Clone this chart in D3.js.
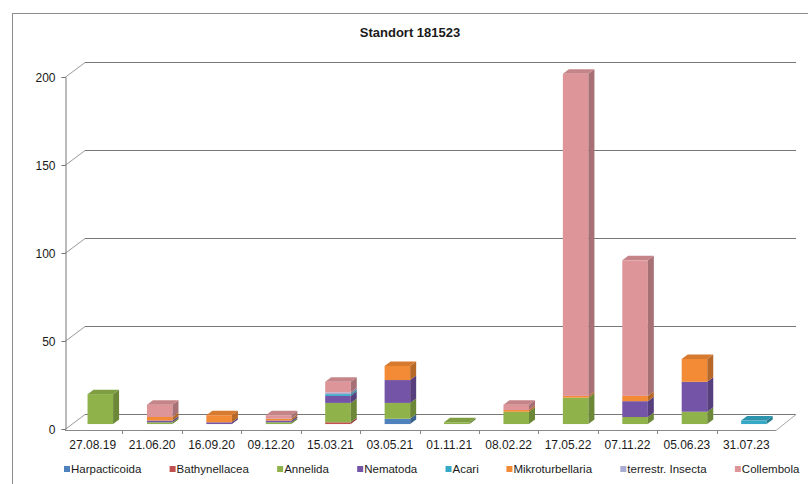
<!DOCTYPE html>
<html>
<head>
<meta charset="utf-8">
<script src="https://d3js.org/d3.v7.min.js"></script>
<style>
  body { margin: 0; background: #fff; }
  text { font-family: "Liberation Sans", Arial, sans-serif; fill: #1a1a1a; }
</style>
</head>
<body>
<svg width="808" height="484"></svg>
<script>
// categories (sampling dates)
var dates = ["27.08.19", "21.06.20", "16.09.20", "09.12.20", "15.03.21", "03.05.21",
             "01.11.21", "08.02.22", "17.05.22", "07.11.22", "05.06.23", "31.07.23"];

// series values
var harpacticoida    = [0, 0, 0, 0, 0, 3, 0, 0, 0, 0, 0, 0];
var bathynellacea    = [0, 0, 0, 0, 1, 0, 0, 0, 0, 0, 0, 0];
var annelida         = [17, 1, 0, 1, 11, 9, 1, 7, 15, 4, 7, 0];
var nematoda         = [0, 1, 1, 1, 4, 13, 0, 0, 0, 9, 17, 0];
var acari            = [0, 0, 0, 0, 1, 0, 0, 0, 0, 0, 0, 2];
var mikroturbellaria = [0, 2, 4, 1, 0, 8, 0, 1, 1, 3, 13, 0];
var insecta          = [0, 0, 0, 0, 1, 0, 0, 0, 0, 0, 0, 0];
var collembola       = [0, 7, 0, 2, 6, 0, 0, 3, 183, 77, 0, 0];

var seriesNames = ["Harpacticoida", "Bathynellacea", "Annelida", "Nematoda", "Acari",
                   "Mikroturbellaria", "terrestr. Insecta", "Collembola"];
var seriesValues = [harpacticoida, bathynellacea, annelida, nematoda, acari,
                    mikroturbellaria, insecta, collembola];
var colors = ["#4f81bd", "#c0504d", "#8fb34a", "#7454a6", "#34a8c4", "#f28a36", "#a9abd3", "#de959a"];

var yTicks = [0, 50, 100, 150, 200];

var svg = d3.select("svg");

// outer frame
svg.append("rect")
    .attr("x", 12.5).attr("y", 13.5)
    .attr("width", 820).attr("height", 500)
    .attr("fill", "none").attr("stroke", "#8c8c8c");

svg.append("text")
    .attr("x", 410).attr("y", 37)
    .attr("text-anchor", "middle")
    .style("font-size", "13px").style("font-weight", "bold")
    .text("Standort 181523");

// 3d geometry
var dx = 20, dy = -15;
var left = 65, right = 776;
var y = d3.scaleLinear().domain([0, 200]).range([429, 77]);
var x = d3.scaleBand().domain(dates).range([63, 776]);

var grid = svg.append("g");
yTicks.forEach(function(t) {
    // back wall line
    grid.append("line")
        .attr("x1", left + dx).attr("x2", right + dx)
        .attr("y1", y(t) + dy + 0.5).attr("y2", y(t) + dy + 0.5)
        .attr("stroke", "#777").attr("stroke-width", 1);
    // side wall line
    grid.append("line")
        .attr("x1", left).attr("x2", left + dx)
        .attr("y1", y(t) + 0.5).attr("y2", y(t) + dy + 0.5)
        .attr("stroke", "#999").attr("stroke-width", 1);
});
// floor
grid.append("line")
    .attr("x1", right).attr("y1", y(0) + 1.5)
    .attr("x2", right + dx).attr("y2", y(0) + dy + 0.5)
    .attr("stroke", "#aaa");
grid.append("line")
    .attr("x1", left).attr("y1", y(0) + 1.5)
    .attr("x2", right).attr("y2", y(0) + 1.5)
    .attr("stroke", "#888");
// x ticks
x.domain().forEach(function(d, i) {
    var xx = Math.round(x(d) + x.bandwidth()) + 0.5;
    if (i < dates.length - 1)
        grid.append("line")
            .attr("x1", xx).attr("x2", xx)
            .attr("y1", y(0) + 1.5).attr("y2", y(0) + 5)
            .attr("stroke", "#888");
});

// front value axis
var yAxis = svg.append("g")
    .attr("transform", "translate(" + (left + 0.5) + ",0)")
    .call(d3.axisLeft(y).tickValues(yTicks).tickSize(4).tickPadding(6));
yAxis.select(".domain").attr("stroke", "#777");
yAxis.selectAll(".tick line").attr("stroke", "#777");
yAxis.selectAll("text").style("font-size", "12px").attr("dy", "0.35em");

// category labels
svg.append("g").selectAll("text")
    .data(dates).enter().append("text")
    .attr("x", function(d) { return x(d) + x.bandwidth() / 2; })
    .attr("y", 449)
    .attr("text-anchor", "middle")
    .style("font-size", "12px")
    .text(function(d) { return d; });

// stacked 3d bars
var table = dates.map(function(d, i) {
    var row = { date: d };
    seriesNames.forEach(function(s, k) { row[s] = seriesValues[k][i]; });
    return row;
});
var stacked = d3.stack().keys(seriesNames)(table);

var f1 = 0.33, f2 = 0.63;
var bw = x.bandwidth() * 0.43;
var sx = dx * (f2 - f1), sy = dy * (f2 - f1);

var bars = svg.append("g");
dates.forEach(function(d, i) {
    var x0 = x(d) + (x.bandwidth() - bw) / 2 + dx * f1 + 1;
    var off = dy * f1;
    var topK = -1;
    stacked.forEach(function(layer, k) {
        var v0 = layer[i][0], v1 = layer[i][1];
        if (v1 - v0 <= 0) return;
        topK = k;
        var yb = y(v0) + off, yt = y(v1) + off;
        var c = d3.color(colors[k]);
        bars.append("rect")
            .attr("x", x0).attr("y", yt)
            .attr("width", bw).attr("height", yb - yt)
            .attr("fill", colors[k]);
        bars.append("path")
            .attr("d", "M" + (x0 + bw) + "," + yb + "L" + (x0 + bw) + "," + yt +
                "L" + (x0 + bw + sx) + "," + (yt + sy) + "L" + (x0 + bw + sx) + "," + (yb + sy) + "Z")
            .attr("fill", c.darker(0.8));
    });
    if (topK >= 0) {
        var tot = stacked[topK][i][1];
        var yt = y(tot) + off;
        bars.append("path")
            .attr("d", "M" + x0 + "," + yt + "L" + (x0 + bw) + "," + yt +
                "L" + (x0 + bw + sx) + "," + (yt + sy) + "L" + (x0 + sx) + "," + (yt + sy) + "Z")
            .attr("fill", d3.color(colors[topK]).darker(0.35));
    }
});

// legend
var legend = svg.append("g");
var items = legend.selectAll("g").data(seriesNames).enter().append("g");
items.append("rect")
    .attr("width", 6).attr("height", 6)
    .attr("y", -7)
    .attr("fill", function(d, k) { return colors[k]; });
items.append("text")
    .attr("x", 7)
    .style("font-size", "11.5px")
    .text(function(d) { return d; });
var widths = [];
items.each(function() { widths.push(this.getBBox().width); });
var total = d3.sum(widths);
var start = 64, end = 800;
var gap = (end - start - total) / (seriesNames.length - 1);
var pos = start;
items.attr("transform", function(d, k) {
    var t = "translate(" + pos + ",473)";
    pos += widths[k] + gap;
    return t;
});
</script>
</body>
</html>
